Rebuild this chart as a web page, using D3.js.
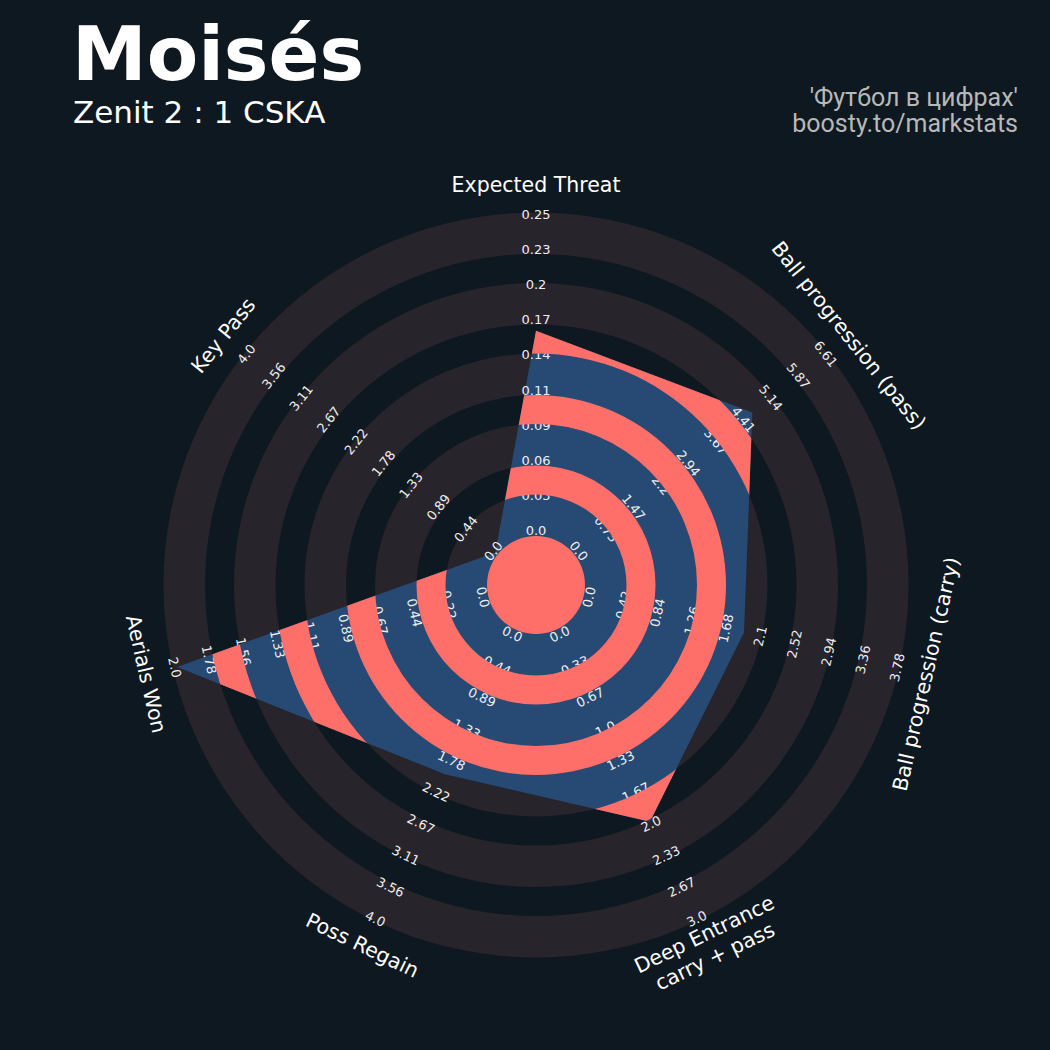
<!DOCTYPE html>
<html>
<head>
<meta charset="utf-8">
<script src="https://cdn.jsdelivr.net/npm/d3@7"></script>
<style>
  html, body { margin: 0; padding: 0; background: #0E1820; }
  svg { display: block; }
</style>
</head>
<body>
<svg id="chart" width="1050" height="1050"></svg>
<script>
// Radar parameters, clockwise from the top
const params = ["Expected Threat", "Ball progression (pass)", "Ball progression (carry)",
                "Deep Entrance\ncarry + pass", "Poss Regain", "Aerials Won", "Key Pass"];
const lows   = [0, 0, 0, 0, 0, 0, 0];
const highs  = [0.25, 6.61, 3.78, 3.0, 4.0, 2.0, 4.0];
const values = [0.16, 4.7, 1.93, 2.0, 2.0, 2.0, 0.0];

// Range labels printed along each axis (ten per axis, low to high)
const ticksXT      = ["0.0", "0.03", "0.06", "0.09", "0.11", "0.14", "0.17", "0.2", "0.23", "0.25"];
const ticksPass    = ["0.0", "0.73", "1.47", "2.2", "2.94", "3.67", "4.41", "5.14", "5.87", "6.61"];
const ticksCarry   = ["0.0", "0.42", "0.84", "1.26", "1.68", "2.1", "2.52", "2.94", "3.36", "3.78"];
const ticksDeep    = ["0.0", "0.33", "0.67", "1.0", "1.33", "1.67", "2.0", "2.33", "2.67", "3.0"];
const ticksRegain  = ["0.0", "0.44", "0.89", "1.33", "1.78", "2.22", "2.67", "3.11", "3.56", "4.0"];
const ticksAerials = ["0.0", "0.22", "0.44", "0.67", "0.89", "1.11", "1.33", "1.56", "1.78", "2.0"];
const ticksKeyPass = ["0.0", "0.44", "0.89", "1.33", "1.78", "2.22", "2.67", "3.11", "3.56", "4.0"];
const tickLabels = [ticksXT, ticksPass, ticksCarry, ticksDeep, ticksRegain, ticksAerials, ticksKeyPass];

const title = "Moisés";
const subtitle = "Zenit 2 : 1 CSKA";
const credits = ["'Футбол в цифрах'", "boosty.to/markstats"];

// ---- layout & style ----
const W = 1050, H = 1050;
const cx = 536, cy = 585;
const rInner = 52, rOuter = 368;          // value range maps onto this band
const centerR = 49, ringW = 41.5, gapW = 29; // background ring geometry
const numRings = 5;
const colBg = "#0E1820", colRing = "#28242B", colRadar = "#274A74", colRadarRing = "#FF6F69";

const svg = d3.select("#chart");
svg.append("rect").attr("width", W).attr("height", H).attr("fill", colBg);

const n = params.length;
const angle = d3.scaleLinear().domain([0, n]).range([0, 2 * Math.PI]);
const scales = params.map((p, i) => d3.scaleLinear().domain([lows[i], highs[i]]).range([rInner, rOuter]));
const tickPos = d3.scaleLinear().domain([0, 9]).range([rInner, rOuter]);

// ring bands: grey bands alternate with background gaps
const greyBands = [], gapBands = [];
let r = centerR;
for (let k = 0; k < numRings; k++) {
  greyBands.push([r, r + ringW]); r += ringW;
  if (k < numRings - 1) { gapBands.push([r, r + gapW]); r += gapW; }
}
const arc = d3.arc().startAngle(0).endAngle(2 * Math.PI);

const g = svg.append("g").attr("transform", `translate(${cx},${cy})`);

// background rings
g.selectAll("path.ring").data(greyBands).join("path")
  .attr("class", "ring")
  .attr("d", d => arc({innerRadius: d[0], outerRadius: d[1]}))
  .attr("fill", colRing);

// radar polygon
const radial = d3.lineRadial()
  .angle((d, i) => angle(i))
  .radius((d, i) => scales[i](d))
  .curve(d3.curveLinearClosed);
const polyPath = radial(values);

svg.append("defs").append("clipPath").attr("id", "radarClip")
  .append("path").attr("d", polyPath).attr("transform", `translate(${cx},${cy})`);

g.append("path").attr("d", polyPath).attr("fill", colRadar);

const inner = svg.append("g").attr("clip-path", "url(#radarClip)")
  .append("g").attr("transform", `translate(${cx},${cy})`);
inner.append("path").attr("d", arc({innerRadius: 0, outerRadius: centerR})).attr("fill", colRadarRing);
inner.selectAll("path.band").data(gapBands).join("path")
  .attr("class", "band")
  .attr("d", d => arc({innerRadius: d[0], outerRadius: d[1]}))
  .attr("fill", colRadarRing);

// text rotation so labels stay upright
function rot(i) {
  const a = angle(i) * 180 / Math.PI;
  if (a > 90 && a < 270) return a - 180;
  return a > 180 ? a - 360 : a;
}
function pos(i, rad) {
  const a = angle(i);
  return [rad * Math.sin(a), -rad * Math.cos(a)];
}

// range labels
params.forEach((p, i) => {
  tickLabels[i].forEach((t, k) => {
    const [x, y] = pos(i, tickPos(k) + 2.5);
    g.append("text")
      .attr("transform", `translate(${x},${y}) rotate(${rot(i)})`)
      .attr("text-anchor", "middle")
      .attr("dominant-baseline", "central")
      .attr("font-family", "DejaVu Sans")
      .attr("font-size", 13)
      .attr("fill", "#EEEEEE")
      .text(t);
  });
});

// parameter labels
params.forEach((p, i) => {
  const [x, y] = pos(i, 400);
  const lines = p.split("\n");
  const lh = 24.5;
  const t = g.append("text")
    .attr("transform", `translate(${x},${y}) rotate(${rot(i)})`)
    .attr("text-anchor", "middle")
    .attr("dominant-baseline", "central")
    .attr("font-family", "DejaVu Sans")
    .attr("font-size", 20.5)
    .attr("fill", "#FFFFFF");
  lines.forEach((l, j) => {
    t.append("tspan").attr("x", 0).attr("y", (j - (lines.length - 1) / 2) * lh).text(l);
  });
});

// header
svg.append("text").attr("x", 72).attr("y", 80)
  .attr("font-family", "DejaVu Sans").attr("font-weight", "bold").attr("font-size", 75)
  .attr("fill", "#FFFFFF").text(title);
svg.append("text").attr("x", 73).attr("y", 123)
  .attr("font-family", "DejaVu Sans").attr("font-size", 31)
  .attr("fill", "#FFFFFF").text(subtitle);
svg.selectAll("text.credit").data(credits).join("text")
  .attr("class", "credit")
  .attr("x", 1018).attr("y", (d, i) => 106 + i * 26)
  .attr("text-anchor", "end")
  .attr("font-family", "Roboto").attr("font-size", 25)
  .attr("fill", "#B8B8B8").text(d => d);
</script>
</body>
</html>
